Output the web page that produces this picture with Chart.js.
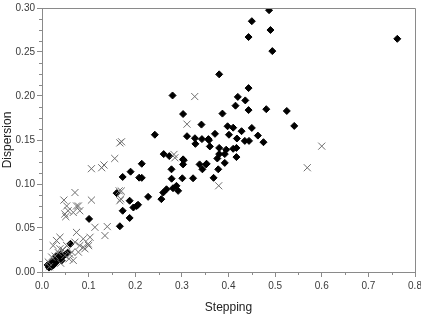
<!DOCTYPE html>
<html>
<head>
<meta charset="utf-8">
<script src="https://cdn.jsdelivr.net/npm/chart.js@4"></script>
<style>
  html, body { margin: 0; padding: 0; background: #fff; }
  #wrap { width: 421px; height: 319px; }
</style>
</head>
<body>
<div id="wrap"><canvas id="scatterChart" width="421" height="319"></canvas></div>
<script>
// stepping (x) / dispersion (y)
const diamondX = [0.762, 0.487, 0.45, 0.49, 0.443, 0.494, 0.38, 0.28, 0.443, 0.42, 0.436, 0.415, 0.443, 0.481, 0.525, 0.541,
  0.3026, 0.387, 0.342, 0.398, 0.41, 0.45, 0.242, 0.311, 0.463, 0.328, 0.343, 0.357, 0.371, 0.401, 0.428, 0.475,
  0.329, 0.36, 0.38, 0.395, 0.417, 0.435, 0.444, 0.418, 0.358, 0.41, 0.417, 0.261, 0.273, 0.3026, 0.304, 0.38,
  0.392, 0.376, 0.392, 0.378, 0.353, 0.344, 0.368, 0.3026, 0.214, 0.338, 0.352, 0.2777, 0.19, 0.2084, 0.214, 0.173,
  0.278, 0.301, 0.324, 0.2884, 0.281, 0.267, 0.26, 0.256, 0.292, 0.2276, 0.188, 0.173, 0.188, 0.203, 0.16, 0.167,
  0.101, 0.061, 0.196, 0.206, 0.012, 0.015, 0.018, 0.022, 0.025, 0.028, 0.032, 0.035, 0.04, 0.045, 0.05, 0.055,
  0.02, 0.03, 0.042, 0.038];
const diamondY = [0.265, 0.2975, 0.285, 0.275, 0.267, 0.251, 0.2246, 0.2006, 0.209, 0.199, 0.195, 0.189, 0.184, 0.185, 0.183, 0.166,
  0.1795, 0.18, 0.1675, 0.1656, 0.164, 0.1637, 0.156, 0.1543, 0.155, 0.152, 0.151, 0.151, 0.157, 0.156, 0.16, 0.1475,
  0.1456, 0.1427, 0.141, 0.139, 0.141, 0.149, 0.149, 0.1517, 0.1498, 0.14, 0.1306, 0.134, 0.1317, 0.128, 0.127, 0.134,
  0.134, 0.129, 0.124, 0.1167, 0.123, 0.1167, 0.107, 0.1223, 0.123, 0.1223, 0.1223, 0.1167, 0.114, 0.1072, 0.107, 0.108,
  0.106, 0.1065, 0.1065, 0.0979, 0.0952, 0.094, 0.0903, 0.0828, 0.0922, 0.0854, 0.081, 0.0696, 0.0614, 0.075, 0.0896, 0.052,
  0.0603, 0.032, 0.0733, 0.0764, 0.008, 0.005, 0.01, 0.012, 0.008, 0.014, 0.012, 0.016, 0.015, 0.018, 0.02, 0.022,
  0.006, 0.018, 0.013, 0.02];

const crossX = [0.3276, 0.311, 0.6, 0.569, 0.379, 0.1706, 0.283, 0.285, 0.17, 0.169, 0.167, 0.156, 0.133, 0.128, 0.106, 0.0707,
  0.106, 0.047, 0.053, 0.056, 0.049, 0.074, 0.067, 0.051, 0.167, 0.1655, 0.14, 0.135, 0.1135, 0.0385, 0.074, 0.0885,
  0.078, 0.081, 0.031, 0.024, 0.0385, 0.053, 0.0707, 0.081, 0.092, 0.078, 0.0636, 0.049, 0.099, 0.103, 0.0207, 0.0135,
  0.067, 0.045, 0.06, 0.035, 0.028, 0.058, 0.088, 0.1, 0.016, 0.04];
const crossY = [0.1994, 0.168, 0.143, 0.1185, 0.098, 0.148, 0.1336, 0.1298, 0.092, 0.083, 0.1467, 0.129, 0.1216, 0.1185, 0.1174, 0.0903,
  0.0817, 0.0817, 0.075, 0.0696, 0.0659, 0.075, 0.0677, 0.0629, 0.081, 0.0922, 0.0516, 0.0414, 0.0508, 0.0395, 0.045, 0.0377,
  0.075, 0.0696, 0.0358, 0.03, 0.0264, 0.03, 0.0339, 0.03, 0.0264, 0.0226, 0.0226, 0.0188, 0.032, 0.0395, 0.017, 0.0113,
  0.0132, 0.025, 0.02, 0.022, 0.018, 0.015, 0.028, 0.03, 0.006, 0.01];

const xTicks = [0, 0.1, 0.2, 0.3, 0.4, 0.5, 0.6, 0.7, 0.8];
const yTicks = [0, 0.05, 0.1, 0.15, 0.2, 0.25, 0.3];

const toPoints = (xs, ys) => xs.map((x, i) => ({ x: x, y: ys[i] }));

const axisGray = '#8a8a8a';
const labelGray = '#3a3a3a';

// frame on top/right plus minor ticks
const frameAndMinorTicks = {
  id: 'frameAndMinorTicks',
  afterDraw(chart) {
    const { ctx, chartArea, scales } = chart;
    ctx.save();
    ctx.strokeStyle = axisGray;
    ctx.lineWidth = 1;
    ctx.beginPath();
    ctx.moveTo(chartArea.left, chartArea.top + 0.5);
    ctx.lineTo(chartArea.right + 0.5, chartArea.top + 0.5);
    ctx.lineTo(chartArea.right + 0.5, chartArea.bottom);
    ctx.stroke();

    ctx.beginPath();
    for (let v = 0.05; v < 0.8; v += 0.1) {
      const px = Math.round(scales.x.getPixelForValue(v)) + 0.5;
      ctx.moveTo(px, chartArea.bottom);
      ctx.lineTo(px, chartArea.bottom + 3);
    }
    for (let i = 0; i < 24; i++) {
      if (i % 4 === 0) continue;
      const py = Math.round(scales.y.getPixelForValue(i * 0.0125)) + 0.5;
      ctx.moveTo(chartArea.left - 3, py);
      ctx.lineTo(chartArea.left, py);
    }
    ctx.stroke();
    ctx.restore();
  }
};

const ctx = document.getElementById('scatterChart').getContext('2d');
new Chart(ctx, {
  type: 'scatter',
  data: {
    datasets: [
      {
        label: 'cross',
        data: toPoints(crossX, crossY),
        pointStyle: 'crossRot',
        pointRadius: 5,
        borderColor: '#6e6e6e',
        backgroundColor: '#6e6e6e',
        borderWidth: 1
      },
      {
        label: 'diamond',
        data: toPoints(diamondX, diamondY),
        pointStyle: 'rectRot',
        pointRadius: 3.5,
        borderColor: '#000',
        backgroundColor: '#000',
        borderWidth: 1
      }
    ]
  },
  options: {
    responsive: false,
    animation: false,
    devicePixelRatio: 1,
    layout: { padding: { top: 6, right: 5, left: 0, bottom: 0 } },
    plugins: { legend: { display: false }, tooltip: { enabled: false } },
    scales: {
      x: {
        type: 'linear',
        min: 0,
        max: 0.8,
        afterBuildTicks: (scale) => { scale.ticks = xTicks.map(v => ({ value: v })); },
        afterFit: (scale) => { scale.height = 47; scale.paddingLeft = 0; scale.paddingRight = 0; },
        ticks: {
          color: labelGray,
          font: { family: 'Liberation Sans', size: 10 },
          padding: 3,
          maxRotation: 0,
          callback: (v) => v.toFixed(1)
        },
        grid: { drawOnChartArea: false, drawTicks: true, tickLength: 5, color: axisGray },
        border: { color: axisGray },
        title: {
          display: true,
          text: 'Stepping',
          color: '#222',
          font: { family: 'Liberation Sans', size: 12 },
          padding: { top: 8 }
        }
      },
      y: {
        type: 'linear',
        min: 0,
        max: 0.3,
        afterBuildTicks: (scale) => { scale.ticks = yTicks.map(v => ({ value: v })); },
        afterFit: (scale) => { scale.width = 42; },
        ticks: {
          color: labelGray,
          font: { family: 'Liberation Sans', size: 10 },
          padding: 2,
          callback: (v) => v.toFixed(2)
        },
        grid: { drawOnChartArea: false, drawTicks: true, tickLength: 5, color: axisGray },
        border: { color: axisGray },
        title: {
          display: true,
          text: 'Dispersion',
          color: '#222',
          font: { family: 'Liberation Sans', size: 12 },
          padding: { top: 0, bottom: 0 }
        }
      }
    }
  },
  plugins: [frameAndMinorTicks]
});
</script>
</body>
</html>
